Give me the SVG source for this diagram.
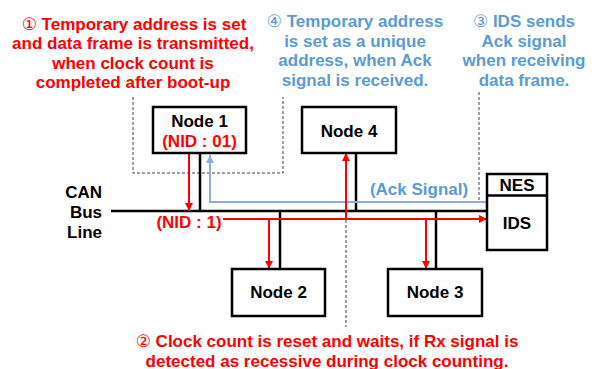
<svg xmlns="http://www.w3.org/2000/svg" width="594" height="369" viewBox="0 0 594 369">
  <style>
    text { font-family: "Liberation Sans", "DejaVu Sans", Arial, sans-serif; font-weight: bold; font-size: 17px; }
    .num { font-weight: normal; }
    .red { fill: #FF0000; }
    .blue { fill: #5B9BD5; }
    .blk { fill: #000000; }
    .mid { text-anchor: middle; }
    .box { fill: #FFFFFF; stroke: #000000; stroke-width: 2.5; }
    .bus { stroke: #000000; stroke-width: 2.5; fill: none; }
    .rline { stroke: #FF0000; stroke-width: 2; fill: none; }
    .bline { stroke: #8FAADC; stroke-width: 2; fill: none; }
    .dash { stroke: #404040; stroke-width: 1; stroke-dasharray: 3 2; fill: none; }
  </style>
  <defs>
    <marker id="arrRed" viewBox="0 0 10 10" refX="10" refY="5" markerWidth="4" markerHeight="4" orient="auto" markerUnits="strokeWidth">
      <path d="M0,0 L10,5 L0,10 Z" fill="#FF0000"/>
    </marker>
    <marker id="arrBlue" viewBox="0 0 10 10" refX="10" refY="5" markerWidth="4" markerHeight="4" orient="auto" markerUnits="strokeWidth">
      <path d="M0,0 L10,5 L0,10 Z" fill="#8FAADC"/>
    </marker>
  </defs>

  <!-- annotation guide lines -->
  <g id="guides">
    <path class="dash" d="M133,97 V173 H283 V97"/>
    <path class="dash" d="M479,92 V202"/>
    <path class="dash" d="M346,220 V327"/>
  </g>

  <!-- annotations -->
  <g id="note1">
    <text class="red mid" x="134" y="29.5"><tspan class="num">①</tspan> Temporary address is set</text>
    <text class="red mid" x="133" y="49">and data frame is transmitted,</text>
    <text class="red mid" x="133" y="68.5">when clock count is</text>
    <text class="red mid" x="133" y="88">completed after boot-up</text>
  </g>
  <g id="note4">
    <text class="blue mid" x="355" y="27"><tspan class="num">④</tspan> Temporary address</text>
    <text class="blue mid" x="355" y="46.5">is set as a unique</text>
    <text class="blue mid" x="355" y="66">address, when Ack</text>
    <text class="blue mid" x="355" y="85.5">signal is received.</text>
  </g>
  <g id="note3">
    <text class="blue mid" x="524" y="27"><tspan class="num">③</tspan> IDS sends</text>
    <text class="blue mid" x="524" y="46.5">Ack signal</text>
    <text class="blue mid" x="524" y="66">when receiving</text>
    <text class="blue mid" x="524" y="85.5">data frame.</text>
  </g>
  <g id="note2">
    <text class="red mid" x="327" y="347"><tspan class="num">②</tspan> Clock count is reset and waits, if Rx signal is</text>
    <text class="red mid" x="327" y="366.5">detected as recessive during clock counting.</text>
  </g>

  <!-- bus and connectors -->
  <g id="connectors">
    <path class="bus" d="M111,211 H487"/>
    <path class="bus" d="M200,153 V211"/>
    <path class="bus" d="M356,153 V211"/>
    <path class="bus" d="M280,211 V269"/>
    <path class="bus" d="M436,211 V269"/>
    <path class="bline" d="M487,202 H210 V155" marker-end="url(#arrBlue)"/>
    <path class="rline" d="M189,153 V211" marker-end="url(#arrRed)"/>
    <path class="rline" d="M223,219 H487" marker-end="url(#arrRed)"/>
    <path class="rline" d="M346,219 V153" marker-end="url(#arrRed)"/>
    <path class="rline" d="M269,219 V269" marker-end="url(#arrRed)"/>
    <path class="rline" d="M426,219 V269" marker-end="url(#arrRed)"/>
  </g>

  <g id="bus-label">
    <text class="blk" x="102" y="197.5" text-anchor="end">CAN</text>
    <text class="blk" x="102" y="217.5" text-anchor="end">Bus</text>
    <text class="blk" x="102" y="237.5" text-anchor="end">Line</text>
    <text class="red mid" x="189" y="228">(NID : 1)</text>
    <text class="blue mid" x="419" y="194.5">(Ack Signal)</text>
  </g>

  <!-- nodes -->
  <g id="node1">
    <rect class="box" x="153" y="107" width="93" height="46"/>
    <text class="blk mid" x="199.5" y="126.5">Node 1</text>
    <text class="red mid" x="199.5" y="146.5">(NID : 01)</text>
  </g>
  <g id="node4">
    <rect class="box" x="302" y="107" width="94" height="46"/>
    <text class="blk mid" x="349" y="136.5">Node 4</text>
  </g>
  <g id="node2">
    <rect class="box" x="232" y="269" width="93" height="47"/>
    <text class="blk mid" x="278.5" y="298">Node 2</text>
  </g>
  <g id="node3">
    <rect class="box" x="388" y="269" width="94" height="47"/>
    <text class="blk mid" x="435" y="298">Node 3</text>
  </g>
  <g id="ids">
    <rect class="box" x="487" y="174" width="60" height="76"/>
    <path class="bus" d="M487,195.5 H547"/>
    <text class="blk mid" x="517" y="190.5">NES</text>
    <text class="blk mid" x="517" y="229">IDS</text>
  </g>
</svg>
